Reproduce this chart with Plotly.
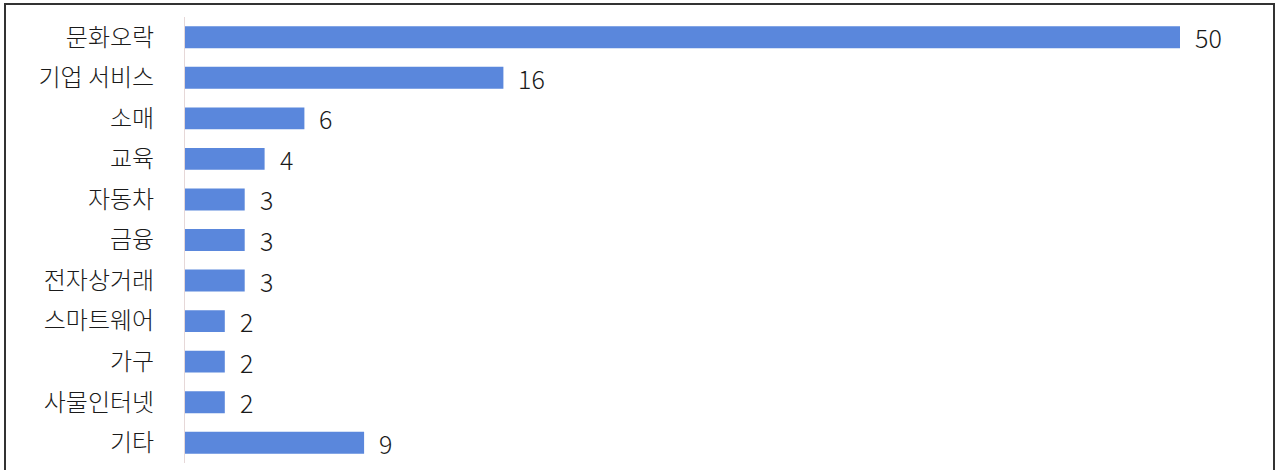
import plotly.graph_objects as go

categories = ["문화오락", "기업 서비스", "소매", "교육", "자동차", "금융", "전자상거래", "스마트웨어", "가구", "사물인터넷", "기타"]
values = [50, 16, 6, 4, 3, 3, 3, 2, 2, 2, 9]

W, H = 1277, 470
L, R, T, B = 185, 7, 17, 7
pw, ph = W - L - R, H - T - B

def px_x(p):
    return (p - L) / pw

def px_y(p):
    return (H - B - p) / ph

fig = go.Figure(go.Bar(
    x=values, y=categories, orientation="h",
    marker=dict(color="#5A87DC", line=dict(width=0)),
    hoverinfo="skip",
))

for c, v in zip(categories, values):
    fig.add_annotation(x=v, y=c, text=str(v), showarrow=False, xanchor="left",
                       xshift=13, font=dict(family="Noto Sans CJK KR", size=25, color="#1a1a1a", weight=300))

fig.add_shape(type="rect", xref="paper", yref="paper",
              x0=px_x(5), x1=px_x(1274), y0=px_y(4), y1=px_y(480),
              line=dict(color="#333333", width=2), fillcolor="rgba(0,0,0,0)", layer="above")

fig.update_layout(
    width=W, height=H,
    margin=dict(l=L, r=R, t=T, b=B, pad=0, autoexpand=False),
    paper_bgcolor="white", plot_bgcolor="white",
    bargap=0.46,
    showlegend=False,
    xaxis=dict(range=[0, (W - R - L) / 19.9], visible=False, fixedrange=True, automargin=False),
    yaxis=dict(autorange="reversed", showgrid=False, zeroline=False, automargin=False,
               showline=True, linecolor="#E6D8D8", linewidth=1,
               ticks="", ticklabelstandoff=25,
               tickfont=dict(family="Noto Sans CJK KR", size=24, color="#1a1a1a", weight=300)),
    font=dict(family="Noto Sans CJK KR"),
)

fig.write_html("out.html", config={"displayModeBar": False},
               post_script="document.body.style.margin='0';document.body.style.overflow='hidden';")
